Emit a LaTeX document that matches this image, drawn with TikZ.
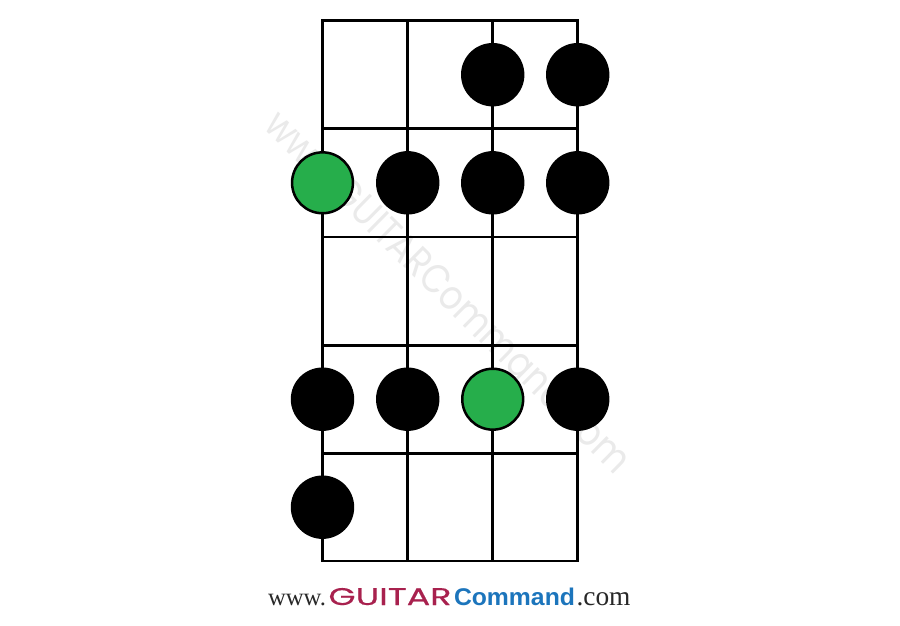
\documentclass[tikz,border=0pt]{standalone}
\usepackage{fontspec}
\usepackage{graphicx}
\setmainfont{Liberation Serif}
\newfontfamily\pop{Poppins}
\newfontfamily\lsans{Liberation Sans}
\definecolor{dotgreen}{RGB}{38,174,75}
\definecolor{gcred}{RGB}{168,33,78}
\definecolor{gcblue}{RGB}{28,117,188}
\definecolor{wmgray}{RGB}{234,234,234}
\definecolor{txtgray}{RGB}{40,40,40}
\tikzset{
  fretline/.style={line width=2.9pt, black},
  blackdot/.style={circle, fill=black, draw=none, minimum size=63.4pt, inner sep=0pt},
  rootdot/.style={circle, fill=dotgreen, draw=black, line width=2.5pt, minimum size=60.9pt, inner sep=0pt},
  txt/.style={anchor=base west, inner sep=0pt, outer sep=0pt}
}
\begin{document}
\begin{tikzpicture}[x=1pt, y=-1pt]
\useasboundingbox (0,0) rectangle (900,626);
\fill[white] (0,0) rectangle (900,626);
% watermark
\node[rotate=-44.6, inner sep=0pt, text=wmgray] (wm) at (449,291) {\resizebox{495pt}{30pt}{\pop www.GUITARCommand.com}};
% grid
\def\xa{322.5}\def\xb{407.7}\def\xc{492.7}\def\xd{577.7}
\def\ya{20.7}\def\yb{128.7}\def\yc{237}\def\yd{345.3}\def\ye{453.3}\def\yf{561}
\draw[fretline] (\xa,\ya) rectangle (\xd,\yf);
\foreach \x in {\xb,\xc} \draw[fretline] (\x,\ya) -- (\x,\yf);
\foreach \y in {\yb,\yc,\yd,\ye} \draw[fretline] (\xa,\y) -- (\xd,\y);
% dots
\node[blackdot] (r1c3) at (\xc,74.7) {};
\node[blackdot] (r1c4) at (\xd,74.7) {};
\node[rootdot]  (r2c1) at (\xa,182.8) {};
\node[blackdot] (r2c2) at (\xb,182.8) {};
\node[blackdot] (r2c3) at (\xc,182.8) {};
\node[blackdot] (r2c4) at (\xd,182.8) {};
\node[blackdot] (r4c1) at (\xa,399.2) {};
\node[blackdot] (r4c2) at (\xb,399.2) {};
\node[rootdot]  (r4c3) at (\xc,399.2) {};
\node[blackdot] (r4c4) at (\xd,399.2) {};
\node[blackdot] (r5c1) at (\xa,507.2) {};
% footer
\node[txt, text=txtgray] (www) at (268,605) {\resizebox{58pt}{!}{www.}};
\node[txt, text=gcred] (guitar) at (328.5,605) {\resizebox{123pt}{17pt}{\pop\addfontfeature{FakeBold=0.4}GUITAR}};
\node[txt, text=gcblue] (command) at (454,605) {\resizebox{121pt}{17.5pt}{\lsans\bfseries Command}};
\node[txt, text=txtgray] (com) at (576.5,605) {\resizebox{54pt}{!}{.com}};
\end{tikzpicture}
\end{document}
